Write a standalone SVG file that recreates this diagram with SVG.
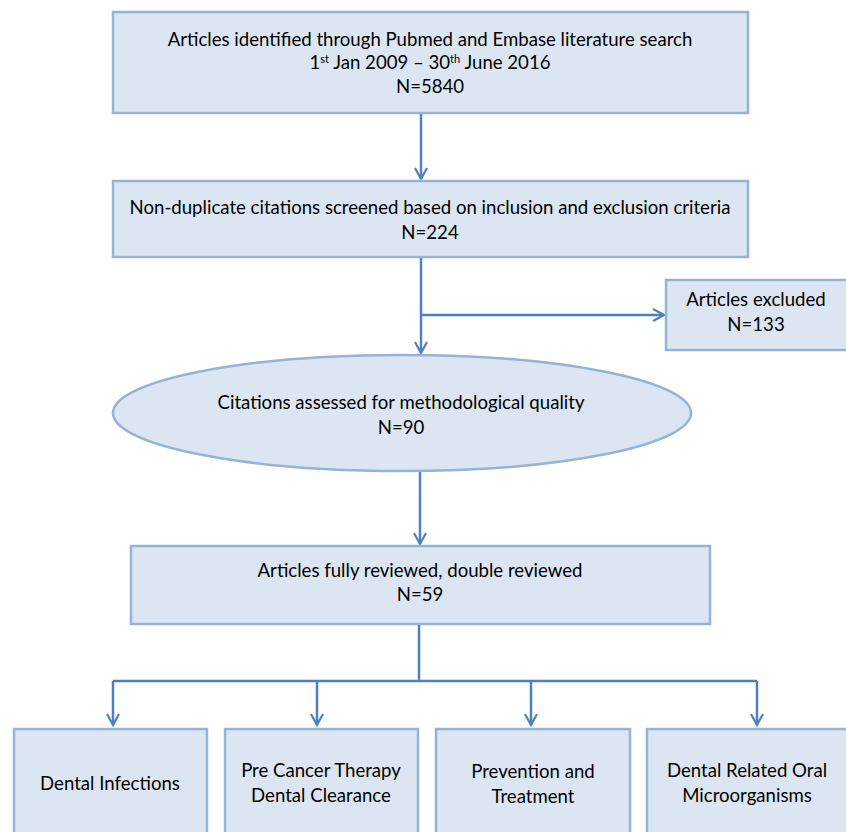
<svg xmlns="http://www.w3.org/2000/svg" width="846" height="832" viewBox="0 0 846 832">
<defs>
<style>
.box{fill:#DCE6F2;stroke:#95B3D7;stroke-width:2.5}
.t{font-family:Lato,"Liberation Sans",sans-serif;font-size:18.6px;fill:#000;text-anchor:middle}
.c{fill:none;stroke:#4F81BD;stroke-width:2.5}
.sup{font-size:11px}
</style>
<marker id="ah" viewBox="0 0 14 14" refX="12" refY="7" markerWidth="14" markerHeight="14" markerUnits="userSpaceOnUse" orient="auto">
<path d="M1,1 L12,7 L1,13" fill="none" stroke="#4F81BD" stroke-width="2.2"/>
</marker>
</defs>
<rect width="846" height="832" fill="#fff"/>
<g id="connectors">
<path class="c" d="M421,113 V179" marker-end="url(#ah)"/>
<path class="c" d="M421,257 V353" marker-end="url(#ah)"/>
<path class="c" d="M421,315 H664" marker-end="url(#ah)"/>
<path class="c" d="M420,471 V544" marker-end="url(#ah)"/>
<path class="c" d="M419,624 V681"/>
<path class="c" d="M113,681 H757"/>
<path class="c" d="M113,681 V725" marker-end="url(#ah)"/>
<path class="c" d="M317,681 V725" marker-end="url(#ah)"/>
<path class="c" d="M531,681 V725" marker-end="url(#ah)"/>
<path class="c" d="M757,681 V725" marker-end="url(#ah)"/>
</g>
<g id="n1">
<rect class="box" x="113" y="12" width="635" height="101"/>
<text class="t" x="430" y="46">Articles identified through Pubmed and Embase literature search</text>
<text class="t" x="430" y="69">1<tspan class="sup" dy="-6">st</tspan><tspan dy="6"> Jan 2009 – 30</tspan><tspan class="sup" dy="-6">th</tspan><tspan dy="6"> June 2016</tspan></text>
<text class="t" x="430" y="93">N=5840</text>
</g>
<g id="n2">
<rect class="box" x="113" y="181" width="635" height="76"/>
<text class="t" x="430" y="214">Non-duplicate citations screened based on inclusion and exclusion criteria</text>
<text class="t" x="430" y="239">N=224</text>
</g>
<g id="n3">
<rect class="box" x="666" y="280" width="182" height="70"/>
<text class="t" x="756" y="306">Articles excluded</text>
<text class="t" x="756" y="331">N=133</text>
</g>
<g id="n4">
<ellipse class="box" cx="402" cy="413" rx="289" ry="58"/>
<text class="t" x="401" y="409">Citations assessed for methodological quality</text>
<text class="t" x="401" y="434">N=90</text>
</g>
<g id="n5">
<rect class="box" x="131" y="546" width="579" height="78"/>
<text class="t" x="420" y="577">Articles fully reviewed, double reviewed</text>
<text class="t" x="420" y="601">N=59</text>
</g>
<g id="n6">
<rect class="box" x="14" y="729" width="193" height="110"/>
<text class="t" x="110" y="790">Dental Infections</text>
</g>
<g id="n7">
<rect class="box" x="225" y="729" width="193" height="110"/>
<text class="t" x="321" y="777">Pre Cancer Therapy</text>
<text class="t" x="321" y="802">Dental Clearance</text>
</g>
<g id="n8">
<rect class="box" x="436" y="729" width="194" height="110"/>
<text class="t" x="533" y="778">Prevention and</text>
<text class="t" x="533" y="803">Treatment</text>
</g>
<g id="n9">
<rect class="box" x="647" y="729" width="202" height="110"/>
<text class="t" x="747" y="777">Dental Related Oral</text>
<text class="t" x="747" y="802">Microorganisms</text>
</g>
</svg>
